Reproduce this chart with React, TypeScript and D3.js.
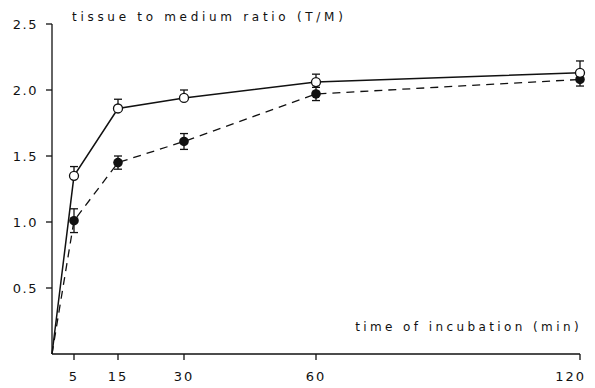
import * as d3 from "d3";

const times = [0, 5, 15, 30, 60, 120];
const openValues = [0, 1.35, 1.86, 1.94, 2.06, 2.13];
const openErr = [0, 0.07, 0.07, 0.06, 0.06, 0.09];
const filledValues = [0, 1.01, 1.45, 1.61, 1.97, 2.08];
const filledErr = [0, 0.09, 0.05, 0.06, 0.05, 0.05];
const xTicks = [5, 15, 30, 60, 120];
const yTicks = [0.5, 1.0, 1.5, 2.0, 2.5];

export default function App() {
  const width = 595;
  const height = 388;
  const x = d3.scaleLinear().domain([0, 120]).range([52, 580]);
  const y = d3.scaleLinear().domain([0, 2.5]).range([354, 24]);
  const font = "'DejaVu Sans', sans-serif";

  const line = d3
    .line<number>()
    .x((_, i) => x(times[i]))
    .y((d) => y(d));

  const cap = 4;

  return (
    <svg
      width={width}
      height={height}
      style={{ position: "absolute", left: 0, top: 0, background: "#fff" }}
      fontFamily={font}
    >
      {/* axes */}
      <line x1={x(0)} x2={x(0)} y1={y(0)} y2={y(2.5)} stroke="#111" strokeWidth={1.3} />
      <line x1={x(0)} x2={x(120)} y1={y(0)} y2={y(0)} stroke="#111" strokeWidth={1.3} />
      {yTicks.map((t) => (
        <g key={t}>
          <line x1={x(0) - 6} x2={x(0)} y1={y(t)} y2={y(t)} stroke="#111" strokeWidth={1.3} />
          <text
            x={x(0) - 14}
            y={y(t)}
            dy="0.35em"
            textAnchor="end"
            fontSize={13}
            letterSpacing={1.5}
            fill="#111"
          >
            {t.toFixed(1)}
          </text>
        </g>
      ))}
      {xTicks.map((t) => (
        <g key={t}>
          <line x1={x(t)} x2={x(t)} y1={y(0)} y2={y(0) + 6} stroke="#111" strokeWidth={1.3} />
          <text
            x={x(t)}
            y={381}
            textAnchor={t === 120 ? "end" : "middle"}
            dx={t === 120 ? 6 : 0}
            fontSize={13}
            letterSpacing={2}
            fill="#111"
          >
            {t}
          </text>
        </g>
      ))}

      <text x={72} y={21} fontSize={12} letterSpacing={3.7} fill="#111">
        tissue to medium ratio (T/M)
      </text>
      <text x={582} y={331} textAnchor="end" fontSize={12} letterSpacing={3.4} fill="#111">
        time of incubation (min)
      </text>

      {/* series lines */}
      <path d={line(filledValues) || ""} fill="none" stroke="#111" strokeWidth={1.3} strokeDasharray="8,6" />
      <path d={line(openValues) || ""} fill="none" stroke="#111" strokeWidth={1.5} />

      {/* error bars */}
      {times.map((t, i) =>
        i === 0 ? null : (
          <g key={"e" + t} stroke="#111" strokeWidth={1.3}>
            <line x1={x(t)} x2={x(t)} y1={y(openValues[i])} y2={y(openValues[i] + openErr[i])} />
            <line x1={x(t) - cap} x2={x(t) + cap} y1={y(openValues[i] + openErr[i])} y2={y(openValues[i] + openErr[i])} />
            <line
              x1={x(t)}
              x2={x(t)}
              y1={y(filledValues[i] - filledErr[i])}
              y2={y(filledValues[i] + filledErr[i])}
            />
            <line x1={x(t) - cap} x2={x(t) + cap} y1={y(filledValues[i] + filledErr[i])} y2={y(filledValues[i] + filledErr[i])} />
            <line x1={x(t) - cap} x2={x(t) + cap} y1={y(filledValues[i] - filledErr[i])} y2={y(filledValues[i] - filledErr[i])} />
          </g>
        )
      )}

      {/* markers */}
      {times.map((t, i) =>
        i === 0 ? null : (
          <g key={"m" + t}>
            <circle cx={x(t)} cy={y(filledValues[i])} r={4.8} fill="#111" />
            <circle cx={x(t)} cy={y(openValues[i])} r={4.5} fill="#fff" stroke="#111" strokeWidth={1.3} />
          </g>
        )
      )}
    </svg>
  );
}
